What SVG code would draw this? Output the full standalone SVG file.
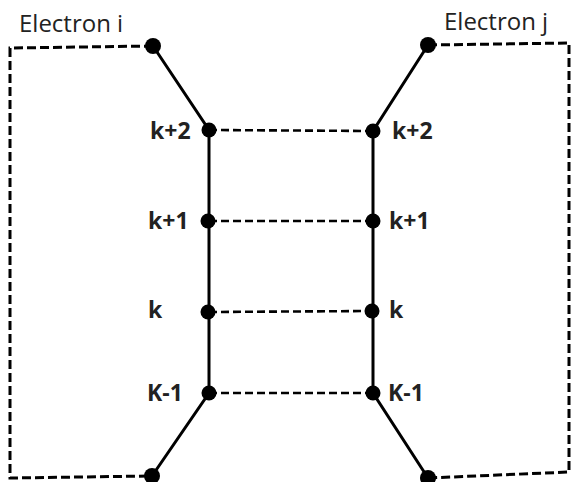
<svg xmlns="http://www.w3.org/2000/svg" width="571" height="482" viewBox="0 0 571 482">
<style>
.solid{fill:none;stroke:#000;stroke-width:3;stroke-linecap:round}
.dash{fill:none;stroke:#000;stroke-width:3;stroke-dasharray:9 4}
.rung{fill:none;stroke:#000;stroke-width:2.6;stroke-dasharray:8 4}
.dot{fill:#000}
.title{font-family:"Open Sans","Liberation Sans",sans-serif;font-size:24px;fill:#222}
.lbl{font-family:"Open Sans","Liberation Sans",sans-serif;font-size:23px;font-weight:bold;fill:#222}
</style>
<rect width="571" height="482" fill="#fff"/>
<g id="connectors">
<path class="dash" d="M153,46 L10,48 L10,478 L152,476"/>
<path class="dash" d="M428,45 L569,43 L569,472 L428,478"/>
<path class="solid" d="M153,46 L209,130 L209,393 L152,476"/>
<path class="solid" d="M428,45 L373,131 L373,393 L428,478"/>
<path class="rung" d="M209,130 L373,131"/>
<path class="rung" d="M209,221 L373,221"/>
<path class="rung" d="M209,312 L372,311"/>
<path class="rung" d="M209,393 L373,393"/>
</g>
<g id="electron-i-top"><circle class="dot" cx="153" cy="46" r="8"/><text class="title" x="19" y="32">Electron i</text></g>
<g id="electron-j-top"><circle class="dot" cx="428" cy="45" r="8"/><text class="title" x="444" y="30">Electron j</text></g>
<g id="electron-i-bottom"><circle class="dot" cx="152" cy="476" r="8"/></g>
<g id="electron-j-bottom"><circle class="dot" cx="428" cy="478" r="8"/></g>
<g id="i-k2"><circle class="dot" cx="209" cy="130" r="7.5"/><text class="lbl" x="150" y="139">k+2</text></g>
<g id="i-k1"><circle class="dot" cx="208" cy="221" r="7.5"/><text class="lbl" x="148" y="229">k+1</text></g>
<g id="i-k"><circle class="dot" cx="208" cy="312" r="7.5"/><text class="lbl" x="148" y="318">k</text></g>
<g id="i-km1"><circle class="dot" cx="209" cy="393" r="7.5"/><text class="lbl" x="147" y="401">K-1</text></g>
<g id="j-k2"><circle class="dot" cx="373" cy="131" r="7.5"/><text class="lbl" x="392" y="139">k+2</text></g>
<g id="j-k1"><circle class="dot" cx="373" cy="221" r="7.5"/><text class="lbl" x="389" y="229">k+1</text></g>
<g id="j-k"><circle class="dot" cx="372" cy="311" r="7.5"/><text class="lbl" x="389" y="318">k</text></g>
<g id="j-km1"><circle class="dot" cx="373" cy="393" r="7.5"/><text class="lbl" x="388" y="401">K-1</text></g>
</svg>
